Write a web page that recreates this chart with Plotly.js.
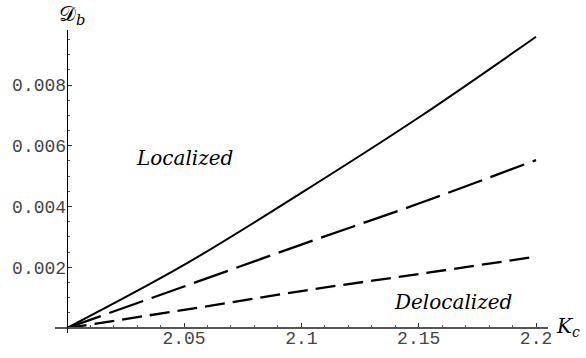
<!DOCTYPE html>
<html>
<head>
<meta charset="utf-8">
<script src="https://cdn.plot.ly/plotly-3.0.1.min.js"></script>
<style>html,body{margin:0;padding:0;background:#fff;}#chart{width:586px;height:358px;}</style>
</head>
<body>
<div id="chart"></div>
<script>
// Data
const Kc = [2.0, 2.05, 2.1, 2.15, 2.2];
const solidDb = [0, 0.00208, 0.00445, 0.00693, 0.00959];
const longDashDb = [0, 0.00137, 0.00275, 0.0041, 0.00553];
const shortDashDb = [0, 0.0006, 0.00122, 0.00178, 0.00235];

const xTickVals = [2.05, 2.1, 2.15, 2.2];
const xTickText = ["2.05", "2.1", "2.15", "2.2"];
const yTickVals = [0.002, 0.004, 0.006, 0.008];
const yTickText = ["0.002", "0.004", "0.006", "0.008"];

const xMinor = [];
for (let i = 1; i <= 20; i++) xMinor.push(+(2.0 + i * 0.01).toFixed(3));
const yMinor = [];
for (let i = 1; i <= 19; i++) yMinor.push(+(i * 0.0005).toFixed(5));

const xr = [1.995014, 2.205094];
const yr = [-0.000161, 0.009811];

const traces = [
  {x: Kc, y: solidDb, mode: 'lines', line: {color: '#000', width: 2, shape: 'spline'}},
  {x: Kc, y: longDashDb, mode: 'lines', line: {color: '#000', width: 2.3, dash: '36px,9px', shape: 'spline'}},
  {x: Kc, y: shortDashDb, mode: 'lines', line: {color: '#000', width: 2.3, dash: '20px,8px', shape: 'spline'}}
];

const tickFont = {family: 'Liberation Mono, monospace', size: 18, color: '#444'};
const labelFont = {family: 'DejaVu Serif, serif', size: 20, color: '#000'};
const layout = {
  width: 586, height: 358,
  margin: {l: 55, r: 38, t: 30, b: 25},
  paper_bgcolor: '#fff', plot_bgcolor: '#fff',
  showlegend: false,
  xaxis: {
    range: xr, anchor: 'free', position: (0 - yr[0]) / (yr[1] - yr[0]),
    showgrid: false, zeroline: false, showline: true, linecolor: '#555', linewidth: 2,
    tickmode: 'array', tickvals: xTickVals, ticktext: xTickText,
    ticks: 'inside', ticklen: 4, tickcolor: '#333', tickwidth: 1,
    ticklabelstandoff: -7,
    minor: {tickmode: 'array', tickvals: xMinor, ticks: 'inside', ticklen: 2, tickcolor: '#555', showgrid: false},
    tickfont: tickFont
  },
  yaxis: {
    range: yr, anchor: 'free', position: (2.0 - xr[0]) / (xr[1] - xr[0]),
    showgrid: false, zeroline: false, showline: true, linecolor: '#000', linewidth: 1,
    tickmode: 'array', tickvals: yTickVals, ticktext: yTickText,
    ticks: 'inside', ticklen: 4, tickcolor: '#333', tickwidth: 1,
    ticklabelstandoff: -3,
    minor: {tickmode: 'array', tickvals: yMinor, ticks: 'inside', ticklen: 2, tickcolor: '#555', showgrid: false},
    tickfont: tickFont
  },
  annotations: [
    {xref: 'paper', yref: 'paper', x: 0.005, y: 1.05, xanchor: 'left', yanchor: 'middle', showarrow: false,
     text: '𝒟<sub><i>b</i></sub>', font: {family: 'DejaVu Serif, serif', size: 21, color: '#000'}},
    {xref: 'paper', yref: 'paper', x: 1.012, y: 0.02, xanchor: 'left', yanchor: 'middle', showarrow: false,
     text: '<i>K</i><sub><i>c</i></sub>', font: labelFont},
    {xref: 'x', yref: 'y', x: 2.0504, y: 0.0056, xanchor: 'center', yanchor: 'middle', showarrow: false,
     text: '<i>Localized</i>', font: labelFont},
    {xref: 'x', yref: 'y', x: 2.1648, y: 0.00086, xanchor: 'center', yanchor: 'middle', showarrow: false,
     text: '<i>Delocalized</i>', font: labelFont}
  ]
};
Plotly.newPlot('chart', traces, layout, {displayModeBar: false, staticPlot: true});
</script>
</body>
</html>
